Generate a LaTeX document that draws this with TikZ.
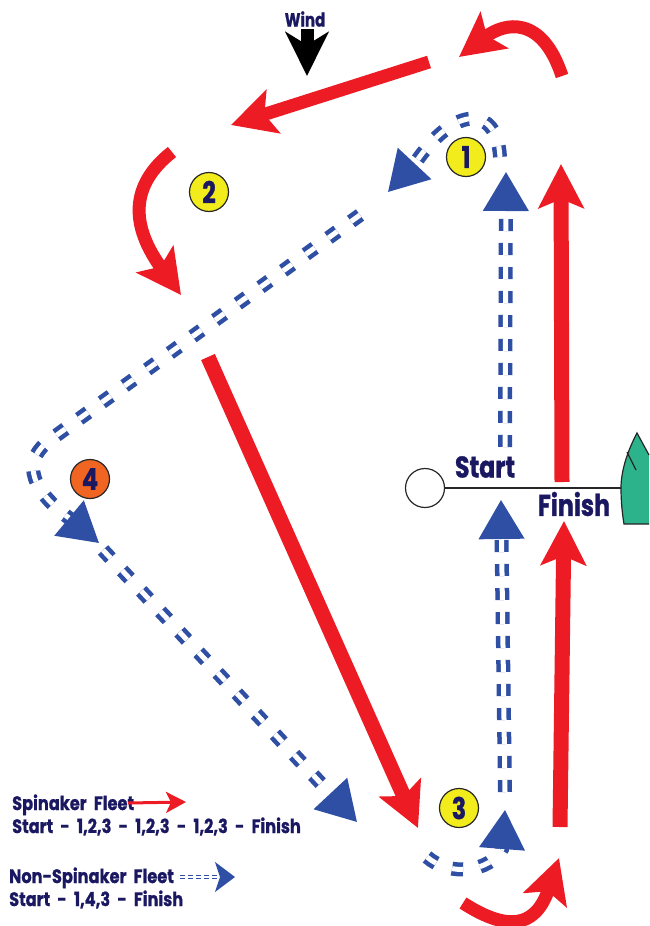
\documentclass[tikz,border=0pt]{standalone}
\usepackage{xcolor}
\usepackage{fontspec}
\setmainfont[BoldFeatures={FakeStretch=0.79,FakeBold=1}]{Poppins}
\newfontfamily\keyfont[BoldFeatures={FakeStretch=0.83,FakeBold=0.8},WordSpace=2.1]{Poppins}
\usetikzlibrary{arrows.meta}

\begin{document}
\begin{tikzpicture}[x=1pt, y=-1pt]
	\definecolor{raceRed}{RGB}{237,28,36}
	\definecolor{raceBlue}{RGB}{46,79,163}
	\definecolor{raceNavy}{RGB}{27,24,98}
	\definecolor{markYellow}{RGB}{242,236,28}
	\definecolor{markOrange}{RGB}{241,101,34}
	\definecolor{boatGreen}{RGB}{45,179,139}
	\tikzstyle{buoy} = [circle, minimum size=39pt, inner sep=0pt, draw=black!85, line width=1.2pt, fill=markYellow, text=raceNavy, font=\bfseries\fontsize{30}{30}\selectfont]
	\tikzstyle{racetext} = [text=raceNavy, inner sep=0pt, font=\bfseries\fontsize{30}{30}\selectfont]
	\tikzstyle{keytext} = [text=raceNavy, inner sep=0pt, align=left, anchor=west, font=\keyfont\bfseries\fontsize{19.5}{23}\selectfont]
	\tikzstyle{spinaker} = [draw=raceRed, line width=13pt, -{Stealth[length=44pt, width=45pt, inset=9pt]}]
	\tikzstyle{nonspinaker} = [draw=raceBlue, line width=4.5pt, double=white, double distance=5pt, dash pattern=on 11pt off 17pt, -{Triangle[length=39pt, width=45pt]}]
	\tikzstyle{upwind} = [dash pattern=on 12pt off 12pt]

	\useasboundingbox (0,0) rectangle (649,926);

	\node (wind) [racetext, font=\bfseries\fontsize{19}{19}\selectfont] at (305,19) {Wind};
	\node (mark1) [buoy] at (466,157) {1};
	\node (mark2) [buoy] at (209,192) {2};
	\node (mark3) [buoy] at (459,808) {3};
	\node (mark4) [buoy, fill=markOrange] at (90,479) {4};
	\node (start) [racetext] at (485,467) {Start};
	\node (finish) [racetext] at (574,504) {Finish};
	\node (pin) [circle, minimum size=39pt, inner sep=0pt, draw=black!85, line width=1.2pt, fill=white] at (425,488) {};
	\node (spinlegend) [keytext] at (12,815) {Spinaker Fleet\\Start - 1,2,3 - 1,2,3 - 1,2,3 - Finish};
	\node (nonspinlegend) [keytext] at (9,888) {Non-Spinaker Fleet\\Start - 1,4,3 - Finish};

	\coordinate (boat) at (621,488);
	\fill [boatGreen] (637,433) .. controls (628,450) and (621,470) .. (boat) .. controls (621,500) and (622,512) .. (624,524) -- (649,524) -- (649,455) -- cycle;
	\draw [black!85, line width=1.2pt] (649,455) -- (637,433) .. controls (628,450) and (621,470) .. (boat) .. controls (621,500) and (622,512) .. (624,524) -- (649,524);
	\draw [black!85, line width=1.2pt] (627,452) -- (636,470);
	\draw [black!85, line width=1.2pt] (pin) -- (boat);

	\coordinate (windtop) at (307,29);
	\coordinate (windtip) at (307,76);
	\draw [line width=13pt, -{Stealth[length=44pt, width=43pt, inset=13pt]}] (windtop) -- (windtip);

	\coordinate (r1a) at (562,76);
	\coordinate (r1b) at (459,57);
	\coordinate (r2a) at (429,62);
	\coordinate (r2b) at (231,125);
	\coordinate (r3a) at (172,152);
	\coordinate (r3b) at (181,295);
	\coordinate (r4a) at (208,357);
	\coordinate (r4b) at (418,828);
	\coordinate (r5a) at (463,903);
	\coordinate (r5b) at (559,858);
	\coordinate (r6a) at (560,827);
	\coordinate (r6b) at (564,521);
	\coordinate (r7a) at (562,482);
	\coordinate (r7b) at (561,164);

	\draw [spinaker] (r1a) .. controls (542,15) and (505,22) .. (r1b);
	\draw [spinaker] (r2a) -- (r2b);
	\draw [spinaker] (r3a) .. controls (130,185) and (130,225) .. (r3b);
	\draw [spinaker, line width=15pt] (r4a) -- (r4b);
	\draw [spinaker] (r5a) .. controls (505,930) and (535,930) .. (r5b);
	\draw [spinaker, line width=15pt] (r6a) -- (r6b);
	\draw [spinaker, line width=15pt] (r7a) -- (r7b);

	\coordinate (b1a) at (505,447);
	\coordinate (b1b) at (506,172);
	\coordinate (b2a) at (500,157);
	\coordinate (b2c) at (416,162);
	\coordinate (b2b) at (388,192);
	\coordinate (b3a) at (360,215);
	\coordinate (b3c) at (50,440);
	\coordinate (b3d) at (69,518);
	\coordinate (b3b) at (99,543);
	\coordinate (b4a) at (103,550);
	\coordinate (b4b) at (357,822);
	\coordinate (b5a) at (427,857);
	\coordinate (b5c) at (502,849);
	\coordinate (b5b) at (505,810);
	\coordinate (b6a) at (505,792);
	\coordinate (b6b) at (501,500);

	\draw [nonspinaker, upwind] (b1a) -- (b1b);
	\draw [nonspinaker] (b2a) .. controls (497,105) and (455,105) .. (b2c) -- (b2b);
	\draw [nonspinaker] (b3a) -- (b3c) .. controls (25,458) and (25,485) .. (b3d) -- (b3b);
	\draw [nonspinaker] (b4a) -- (b4b);
	\draw [nonspinaker] (b5a) .. controls (450,877) and (490,872) .. (b5c) -- (b5b);
	\draw [nonspinaker, upwind] (b6a) -- (b6b);

	\coordinate (redkeya) at (128,803);
	\coordinate (redkeyb) at (186,802);
	\coordinate (bluekeya) at (180,877);
	\coordinate (bluekeyb) at (235,877);
	\draw [draw=raceRed, line width=3pt, -{Stealth[length=20pt, width=21pt, inset=5pt]}] (redkeya) -- (redkeyb);
	\draw [draw=raceBlue, line width=1.5pt, double=white, double distance=1.5pt, dash pattern=on 5pt off 3pt, -{Stealth[length=20pt, width=30pt, inset=5pt]}] (bluekeya) -- (bluekeyb);
\end{tikzpicture}
\end{document}
